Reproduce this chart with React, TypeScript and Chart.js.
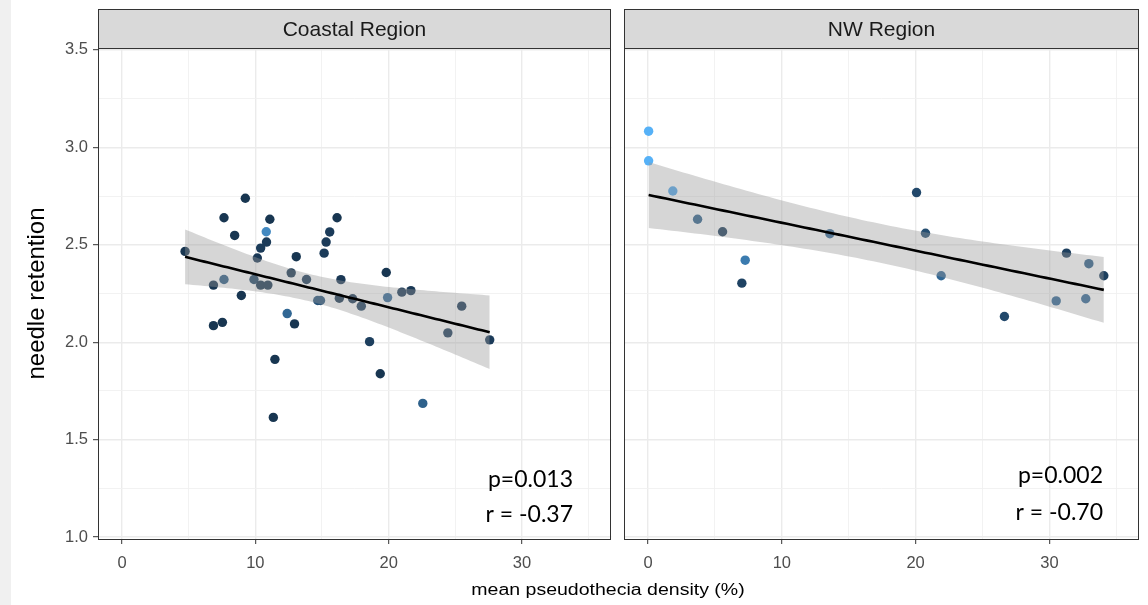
import React, { useEffect, useRef } from "react";
import { Chart, registerables } from "chart.js";
Chart.register(...registerables);

// ---------- data ----------
const coastalX = [4.73, 9.25, 7.65, 11.09, 8.45, 10.82, 10.84, 10.40, 10.15, 6.86, 7.65, 8.95, 9.90, 10.40, 10.94, 6.86, 7.53, 11.47, 11.35, 12.69, 13.07, 12.39, 12.94, 13.84, 14.68, 14.89, 16.13, 15.58, 15.31, 15.16, 16.42, 16.30, 17.30, 17.95, 19.82, 19.92, 20.99, 21.67, 18.57, 19.37, 22.56, 25.48, 24.44, 27.58];
const coastalY = [2.466, 2.739, 2.639, 2.631, 2.548, 2.567, 2.514, 2.483, 2.432, 2.293, 2.322, 2.240, 2.322, 2.293, 2.293, 2.085, 2.102, 1.912, 1.614, 2.356, 2.439, 2.147, 2.094, 2.322, 2.214, 2.214, 2.639, 2.566, 2.514, 2.457, 2.321, 2.226, 2.223, 2.185, 2.358, 2.229, 2.257, 2.265, 2.003, 1.838, 1.686, 2.185, 2.048, 2.012];
const coastalShade = [0.08, 0.08, 0.08, 0.08, 0.08, 0.7, 0.12, 0.12, 0.1, 0.08, 0.35, 0.08, 0.2, 0.08, 0.08, 0.08, 0.08, 0.08, 0.08, 0.08, 0.08, 0.45, 0.08, 0.12, 0.3, 0.3, 0.08, 0.12, 0.12, 0.12, 0.1, 0.08, 0.1, 0.15, 0.08, 0.45, 0.1, 0.1, 0.15, 0.08, 0.4, 0.1, 0.12, 0.12];

const nwX = [0.04, 0.04, 1.85, 3.70, 5.57, 7.26, 7.01, 13.59, 20.07, 20.74, 21.91, 26.64, 30.51, 31.28, 32.95, 32.72, 34.07];
const nwY = [3.083, 2.931, 2.776, 2.631, 2.567, 2.421, 2.303, 2.557, 2.768, 2.559, 2.341, 2.132, 2.212, 2.457, 2.403, 2.223, 2.341];
const nwShade = [1.0, 1.0, 0.92, 0.4, 0.12, 0.6, 0.18, 0.45, 0.22, 0.25, 0.45, 0.22, 0.45, 0.15, 0.38, 0.45, 0.15];

const xGridValues = [0, 5, 10, 15, 20, 25, 30, 35];
const xTickLabels = [0, 10, 20, 30];
const yGridValues = [1.0, 1.25, 1.5, 1.75, 2.0, 2.25, 2.5, 2.75, 3.0, 3.25, 3.5];
const yTickLabels = [1.0, 1.5, 2.0, 2.5, 3.0, 3.5];

const panelTitles = ["Coastal Region", "NW Region"];
const coastalStats = ["p=0.013", "r = -0.37"];
const nwStats = ["p=0.002", "r = -0.70"];
const yTitle = "needle retention";
const xTitle = "mean pseudothecia density (%)";

// ---------- helpers ----------
const LOW = [19, 43, 67];
const HIGH = [86, 177, 247];
function shadeColor(v: number) {
  const c = LOW.map((l, i) => Math.round(l + (HIGH[i] - l) * v));
  return `rgb(${c[0]},${c[1]},${c[2]})`;
}

function tQuantile975(df: number) {
  const z = 1.959964;
  const z3 = z * z * z, z5 = z3 * z * z, z7 = z5 * z * z;
  return z + (z3 + z) / (4 * df) + (5 * z5 + 16 * z3 + 3 * z) / (96 * df * df) + (3 * z7 + 19 * z5 + 17 * z3 - 15 * z) / (384 * df * df * df);
}

function fitLm(xs: number[], ys: number[]) {
  const n = xs.length;
  const mx = xs.reduce((a, b) => a + b, 0) / n;
  const my = ys.reduce((a, b) => a + b, 0) / n;
  let sxx = 0, sxy = 0;
  for (let i = 0; i < n; i++) {
    sxx += (xs[i] - mx) ** 2;
    sxy += (xs[i] - mx) * (ys[i] - my);
  }
  const b = sxy / sxx;
  const a = my - b * mx;
  let sse = 0;
  for (let i = 0; i < n; i++) sse += (ys[i] - (a + b * xs[i])) ** 2;
  const s = Math.sqrt(sse / (n - 2));
  const t = tQuantile975(n - 2);
  const lo = Math.min(...xs), hi = Math.max(...xs);
  const N = 80;
  const fit: { x: number; y: number }[] = [];
  const upper: { x: number; y: number }[] = [];
  const lower: { x: number; y: number }[] = [];
  for (let k = 0; k < N; k++) {
    const x = lo + ((hi - lo) * k) / (N - 1);
    const yh = a + b * x;
    const se = s * Math.sqrt(1 / n + (x - mx) ** 2 / sxx);
    fit.push({ x, y: yh });
    upper.push({ x, y: yh + t * se });
    lower.push({ x, y: yh - t * se });
  }
  return { fit, upper, lower };
}

const isMajorX = (v: number) => xTickLabels.some((t) => Math.abs(t - v) < 1e-6);
const isMajorY = (v: number) => yTickLabels.some((t) => Math.abs(t - v) < 1e-6);

const panelPlugin = {
  id: "panelDeco",
  afterDraw(chart: any, _args: any, opts: any) {
    const { ctx, chartArea } = chart;
    const left = Math.round(chartArea.left);
    const right = Math.round(chartArea.right);
    const top = Math.round(chartArea.top);
    const bottom = Math.round(chartArea.bottom);
    ctx.save();
    // strip
    const stripTop = 9;
    ctx.fillStyle = "#d9d9d9";
    ctx.fillRect(left, stripTop, right - left, top - stripTop);
    ctx.strokeStyle = "#333333";
    ctx.lineWidth = 1;
    ctx.strokeRect(left + 0.5, stripTop + 0.5, right - left - 1, top - stripTop);
    ctx.fillStyle = "#1a1a1a";
    ctx.font = '21px "Liberation Sans", Arial, sans-serif';
    ctx.textAlign = "center";
    ctx.textBaseline = "middle";
    ctx.fillText(opts.title, (left + right) / 2, (stripTop + top) / 2 + 2);
    // panel border
    ctx.strokeRect(left + 0.5, top + 0.5, right - left - 1, bottom - top);
    // stats annotations
    ctx.fillStyle = "#000000";
    ctx.font = '23px Lato, "Open Sans", sans-serif';
    ctx.textAlign = "right";
    ctx.textBaseline = "middle";
    ctx.fillText(opts.stats[0], right - opts.statRight, opts.statY[0]);
    ctx.fillText(opts.stats[1], right - opts.statRight, opts.statY[1]);
    ctx.restore();
  },
};

function buildConfig(xs: number[], ys: number[], shade: number[], isLeft: boolean, title: string, stats: string[], statY: number[], statRight: number) {
  const { fit, upper, lower } = fitLm(xs, ys);
  const tickFont = { family: '"Liberation Sans", Arial, sans-serif', size: 16.5 };
  return {
    type: "scatter",
    data: {
      datasets: [
        {
          type: "scatter",
          data: xs.map((x, i) => ({ x, y: ys[i] })),
          pointBackgroundColor: shade.map(shadeColor),
          pointBorderWidth: 0,
          pointRadius: 4.7,
          order: 3,
        },
        {
          type: "line",
          data: lower,
          borderWidth: 0,
          borderColor: "rgba(0,0,0,0)",
          pointRadius: 0,
          fill: false,
          order: 2,
        },
        {
          type: "line",
          data: upper,
          borderWidth: 0,
          borderColor: "rgba(0,0,0,0)",
          backgroundColor: "rgba(153,153,153,0.4)",
          pointRadius: 0,
          fill: "-1",
          order: 2,
        },
        {
          type: "line",
          data: fit,
          borderColor: "#000000",
          borderWidth: 2.6,
          pointRadius: 0,
          fill: false,
          order: 1,
        },
      ],
    },
    options: {
      responsive: false,
      animation: false,
      events: [],
      layout: { padding: isLeft ? { left: 0, right: 4, top: 48, bottom: 0 } : { left: 0, right: 9, top: 48, bottom: 0 } },
      plugins: {
        legend: { display: false },
        tooltip: { enabled: false },
        panelDeco: { title, stats, statY, statRight },
      },
      scales: {
        x: {
          type: "linear",
          min: -1.8,
          max: 36.7,
          afterBuildTicks: (scale: any) => {
            scale.ticks = xGridValues.map((v) => ({ value: v }));
          },
          afterFit: (scale: any) => {
            scale.height = 66;
          },
          ticks: {
            color: "#4d4d4d",
            font: tickFont,
            padding: 10,
            maxRotation: 0,
            autoSkip: false,
            callback: (v: number) => (isMajorX(v) ? String(v) : ""),
          },
          grid: {
            color: (c: any) => (c.tick && isMajorX(c.tick.value) ? "#ebebeb" : "#f1f1f1"),
            lineWidth: (c: any) => (c.tick && isMajorX(c.tick.value) ? 1.4 : 0.9),
            tickColor: (c: any) => (c.tick && isMajorX(c.tick.value) ? "#333333" : "rgba(0,0,0,0)"),
            tickLength: 5,
            tickWidth: 1,
          },
          border: { display: false },
        },
        y: {
          type: "linear",
          min: 0.99,
          max: 3.51,
          afterBuildTicks: (scale: any) => {
            scale.ticks = yGridValues.map((v) => ({ value: v }));
          },
          afterFit: (scale: any) => {
            scale.width = isLeft ? 98 : 8;
          },
          ticks: {
            display: isLeft,
            color: "#4d4d4d",
            font: tickFont,
            padding: 5,
            autoSkip: false,
            callback: (v: number) => (isMajorY(v) ? v.toFixed(1) : ""),
          },
          title: {
            display: isLeft,
            text: yTitle,
            color: "#000000",
            font: { family: '"Liberation Sans", Arial, sans-serif', size: 24 },
            padding: { top: 23, bottom: 0 },
          },
          grid: {
            color: (c: any) => (c.tick && isMajorY(c.tick.value) ? "#ebebeb" : "#f1f1f1"),
            lineWidth: (c: any) => (c.tick && isMajorY(c.tick.value) ? 1.4 : 0.9),
            tickColor: (c: any) => (isLeft && c.tick && isMajorY(c.tick.value) ? "#333333" : "rgba(0,0,0,0)"),
            tickLength: isLeft ? 5 : 0,
            drawTicks: isLeft,
            tickWidth: 1,
          },
          border: { display: false },
        },
      },
    },
    plugins: [panelPlugin],
  };
}

export default function App() {
  const leftRef = useRef<HTMLCanvasElement>(null);
  const rightRef = useRef<HTMLCanvasElement>(null);

  useEffect(() => {
    const c1 = new Chart(
      leftRef.current as HTMLCanvasElement,
      buildConfig(coastalX, coastalY, coastalShade, true, panelTitles[0], coastalStats, [480, 515], 38) as any
    );
    const c2 = new Chart(
      rightRef.current as HTMLCanvasElement,
      buildConfig(nwX, nwY, nwShade, false, panelTitles[1], nwStats, [476, 513], 36) as any
    );
    return () => {
      c1.destroy();
      c2.destroy();
    };
  }, []);

  return (
    <div style={{ position: "fixed", left: 0, top: 0, width: 1148, height: 605, background: "#ffffff", overflow: "hidden" }}>
      <div style={{ position: "absolute", left: 0, top: 0, width: 11, height: 605, background: "#f0f0f0" }} />
      <canvas ref={leftRef} width={616} height={605} style={{ position: "absolute", left: 0, top: 0 }} />
      <canvas ref={rightRef} width={532} height={605} style={{ position: "absolute", left: 616, top: 0 }} />
      <div
        style={{
          position: "absolute",
          left: 0,
          width: 1216,
          top: 581,
          textAlign: "center",
          font: '16px "Liberation Sans", Arial, sans-serif',
          color: "#000000",
          transform: "scaleX(1.22)",
          transformOrigin: "608px 0",
        }}
      >
        {xTitle}
      </div>
    </div>
  );
}
